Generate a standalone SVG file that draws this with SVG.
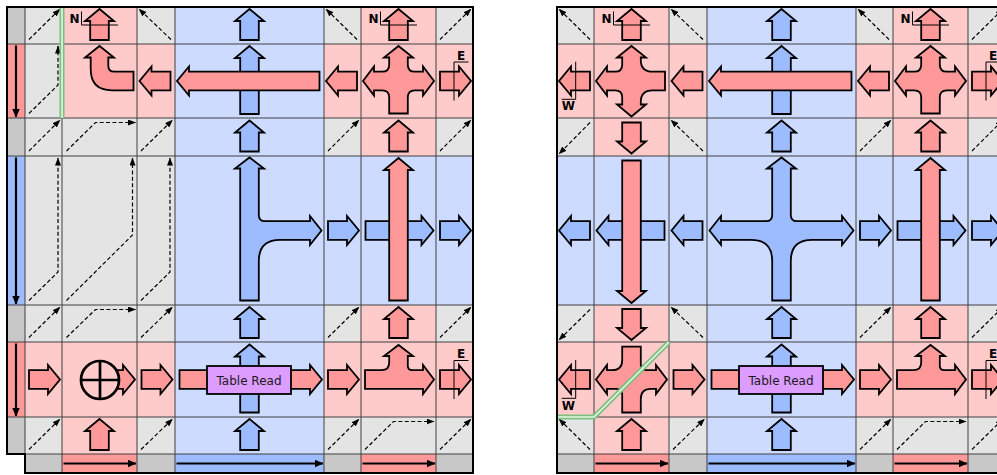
<svg xmlns="http://www.w3.org/2000/svg" xmlns:xlink="http://www.w3.org/1999/xlink" width="997" height="475" viewBox="0 0 997 475">
<style>
.cg{fill:#e4e4e4}
.cd{fill:#c8c8c8}
.cp{fill:#ffcaca}
.cb{fill:#ccdbff}
.bp{fill:#ff9898}
.bb{fill:#9dbcff}
.ap{fill:#ff9898;stroke:#000;stroke-width:1.8;stroke-linejoin:miter}
.ab{fill:#9dbcff;stroke:#000;stroke-width:1.8;stroke-linejoin:miter}
.grid{fill:none;stroke:#404040;stroke-width:1}
.frame{fill:none;stroke:#000;stroke-width:2}
.dsh{fill:none;stroke:#000;stroke-width:1.2;stroke-dasharray:4 2.4;marker-end:url(#tip)}
.bar{fill:none;stroke:#000;stroke-width:2.2;marker-end:url(#btip)}
.lab{font-family:"DejaVu Sans",sans-serif;font-weight:bold;font-size:12px;fill:#000}
.ax{fill:none;stroke:#000;stroke-width:1}
.seam{fill:none;stroke:#7dbf7d;stroke-width:5}
.seam2{fill:none;stroke:#e6f6e6;stroke-width:1.6}
.box{fill:#dd9cff;stroke:#000;stroke-width:1.8}
.boxt{font-family:"DejaVu Sans",sans-serif;font-size:12px;fill:#1a1a1a}
.sum{fill:#ffcaca;stroke:#000;stroke-width:2.7}
</style>
<defs>
<marker id="tip" viewBox="0 0 8 6" refX="7.5" refY="3" markerWidth="8" markerHeight="6" markerUnits="userSpaceOnUse" orient="auto"><path d="M0,0L8,3L0,6Z"/></marker>
<marker id="btip" viewBox="0 0 9 8" refX="8.5" refY="4" markerWidth="9" markerHeight="8" markerUnits="userSpaceOnUse" orient="auto"><path d="M0,0L9,4L0,8Z"/></marker>
<!-- straight arrows pointing right, origin at cell centre -->
<path id="a" d="M-14.5,-9.3H4.5V-14.5L16.5,0L4.5,14.5V9.3H-14.5Z"/>
<path id="a2" d="M-33,-9.3H23V-14.5L35,0L23,14.5V9.3H-33Z"/>
<path id="a4" d="M-70,-9.3H60.5V-14.5L72.5,0L60.5,14.5V9.3H-70Z"/>
<!-- split: up, left, right; fed from below -->
<path id="split3" d="M389.2,113.5V97.3Q389.2,90.3 382.2,90.3H374V95.5L363,81L374,66.5V71.7H382.2Q389.2,71.7 389.2,64.7V57.5H384L398.5,46L413,57.5H407.8V64.7Q407.8,71.7 414.8,71.7H423V66.5L434,81L423,95.5V90.3H414.8Q407.8,90.3 407.8,97.3V113.5Z"/>
<!-- tee: up and right; fed from the left -->
<path id="teeUR" d="M365,370.2H381.5Q389.2,370.2 389.2,362.5V356H384L398.5,345L413,356H407.8V365.7Q407.8,370.2 412.3,370.2H423V365L434,379.5L423,394V388.8H365Z"/>
<!-- table read block -->
<g id="tread">
<rect class="box" x="207" y="366" width="84" height="28"/>
<text class="boxt" x="249" y="384.5" text-anchor="middle">Table Read</text>
</g>
</defs>

<rect width="997" height="475" fill="#fff"/>

<!-- ===== left grid ===== -->
<g id="panel-a">
<g id="a-cells">
<rect class="cg" x="25" y="7" width="448" height="447"/>
<rect class="cb" x="175" y="7" width="149" height="447"/>
<rect class="cb" x="324" y="156" width="149" height="149"/>
<rect class="cp" x="62" y="7" width="75" height="37"/>
<rect class="cp" x="361" y="7" width="75" height="37"/>
<rect class="cp" x="62" y="44" width="113" height="74"/>
<rect class="cp" x="324" y="44" width="149" height="74"/>
<rect class="cp" x="361" y="118" width="75" height="38"/>
<rect class="cp" x="361" y="305" width="75" height="37"/>
<rect class="cp" x="25" y="342" width="150" height="75"/>
<rect class="cp" x="324" y="342" width="149" height="75"/>
<rect class="cp" x="62" y="417" width="75" height="37"/>
<rect class="cd" x="7" y="7" width="18" height="447"/>
<rect class="bp" x="7" y="44" width="18" height="74"/>
<rect class="bb" x="7" y="156" width="18" height="149"/>
<rect class="bp" x="7" y="342" width="18" height="75"/>
<rect class="cd" x="25" y="454" width="448" height="19"/>
<rect class="bp" x="62" y="454" width="75" height="19"/>
<rect class="bb" x="175" y="454" width="149" height="19"/>
<rect class="bp" x="361" y="454" width="75" height="19"/>
</g>
<path id="a-grid" class="grid" d="M25,7V473M62,7V473M137,7V473M175,7V473M324,7V473M361,7V473M436,7V473M7,44H473M7,118H473M7,156H473M7,305H473M7,342H473M7,417H473M7,454H473"/>
<g id="a-flows">
<path class="dsh" d="M29,39.5L60,9"/>
<path class="dsh" d="M171,39.5L139,9"/>
<path class="dsh" d="M357,39.5L326,9"/>
<path class="dsh" d="M440,39.5L471,9"/>
<path class="dsh" d="M29,113.5L58,85V46"/>
<path class="dsh" d="M29,151L60,120"/>
<path class="dsh" d="M66.5,151L95.5,122.5H135.5"/>
<path class="dsh" d="M141,151L172.5,120"/>
<path class="dsh" d="M328,151L359,120"/>
<path class="dsh" d="M440,151L471,120"/>
<path class="dsh" d="M29,300.5L58,272V158"/>
<path class="dsh" d="M66.5,300.5L132.5,235V158"/>
<path class="dsh" d="M141,300.5L170,272V158"/>
<path class="dsh" d="M29,337.5L60,307"/>
<path class="dsh" d="M66.5,337.5L95.5,309.5H135.5"/>
<path class="dsh" d="M141,337.5L172.5,307"/>
<path class="dsh" d="M328,337.5L359,307"/>
<path class="dsh" d="M440,337.5L471,307"/>
<path class="dsh" d="M29,449.5L60,419"/>
<path class="dsh" d="M141,449.5L172.5,419"/>
<path class="dsh" d="M328,449.5L359,419"/>
<path class="dsh" d="M365,449.5L393.5,421.5H434"/>
<path class="dsh" d="M440,449.5L471,419"/>
</g>
<g id="a-bars">
<path class="bar" d="M16,45.5V117"/>
<path class="bar" d="M16,157.5V304"/>
<path class="bar" d="M16,343.5V416"/>
<path class="bar" d="M63.5,463.5H136"/>
<path class="bar" d="M176.5,463.5H323"/>
<path class="bar" d="M362.5,463.5H435"/>
</g>
<g id="a-arrows">
<use href="#a" class="ap" transform="translate(99.5,25.5) rotate(-90)"/>
<use href="#a" class="ab" transform="translate(249.5,25.5) rotate(-90)"/>
<use href="#a" class="ap" transform="translate(398.5,25.5) rotate(-90)"/>
<path class="ap" d="M90.7,57.5H85L99.5,46L114,57.5H108.3V65.7Q108.3,71.7 114.3,71.7H133.5V90.3H112Q90.7,90.3 90.7,69Z"/>
<use href="#a" class="ap" transform="translate(156,81) rotate(180)"/>
<use href="#a2" class="ab" transform="translate(249.5,81) rotate(-90)"/>
<use href="#a4" class="ap" transform="translate(249.5,81) rotate(180)"/>
<use href="#a" class="ap" transform="translate(342.5,81) rotate(180)"/>
<use href="#split3" class="ap"/>
<use href="#a" class="ap" transform="translate(454.5,81)"/>
<use href="#a" class="ab" transform="translate(249.5,137) rotate(-90)"/>
<use href="#a" class="ap" transform="translate(398.5,137) rotate(-90)"/>
<path class="ab" d="M240.2,300.5V168.5H235L249.5,157.5L264,168.5H258.8V215Q258.8,221.2 265,221.2H310V216L321.5,230.5L310,245V239.8H280Q258.8,239.8 258.8,261V300.5Z"/>
<use href="#a" class="ab" transform="translate(342.5,230.5)"/>
<use href="#a2" class="ab" transform="translate(398.5,230.5)"/>
<use href="#a4" class="ap" transform="translate(398.5,230.5) rotate(-90)"/>
<use href="#a" class="ab" transform="translate(454.5,230.5)"/>
<use href="#a" class="ab" transform="translate(249.5,323.5) rotate(-90)"/>
<use href="#a" class="ap" transform="translate(398.5,323.5) rotate(-90)"/>
<use href="#a" class="ap" transform="translate(43.5,379.5)"/>
<use href="#a" class="ap" transform="translate(118.5,379.5)"/>
<circle class="sum" cx="100" cy="380" r="19"/>
<path fill="none" stroke="#000" stroke-width="2.7" d="M81,380H119M100,361V399"/>
<use href="#a" class="ap" transform="translate(156,379.5)"/>
<use href="#a2" class="ab" transform="translate(249.5,379.5) rotate(-90)"/>
<use href="#a4" class="ap" transform="translate(249.5,379.5)"/>
<use href="#tread"/>
<use href="#a" class="ap" transform="translate(342.5,379.5)"/>
<use href="#teeUR" class="ap"/>
<use href="#a" class="ap" transform="translate(454.5,379.5)"/>
<use href="#a" class="ap" transform="translate(99.5,435.5) rotate(-90)"/>
<use href="#a" class="ab" transform="translate(249.5,435.5) rotate(-90)"/>
</g>
<g id="a-labels">
<text class="lab" x="69.5" y="22.5">N</text>
<path class="ax" d="M81.5,11.5V25H118"/>
<text class="lab" x="368.5" y="22.5">N</text>
<path class="ax" d="M380.5,11.5V25H417"/>
<text class="lab" x="457" y="60.3">E</text>
<path class="ax" d="M468.5,62H454V100.5"/>
<text class="lab" x="457" y="358.3">E</text>
<path class="ax" d="M468.5,360.5H454V399"/>
</g>
<g id="a-seam">
<path class="seam" d="M62,7V118"/>
<path class="seam2" d="M62,7V118"/>
</g>
<path class="frame" d="M7,7H473V473H25V454H7Z"/>
</g>

<!-- ===== right grid ===== -->
<g id="panel-b" transform="translate(532,0)">
<g id="b-cells">
<rect class="cg" x="25" y="7" width="448" height="447"/>
<rect class="cp" x="62" y="7" width="75" height="37"/>
<rect class="cp" x="361" y="7" width="75" height="37"/>
<rect class="cp" x="25" y="44" width="448" height="74"/>
<rect class="cp" x="62" y="118" width="75" height="38"/>
<rect class="cp" x="361" y="118" width="75" height="38"/>
<rect class="cp" x="62" y="305" width="75" height="37"/>
<rect class="cp" x="361" y="305" width="75" height="37"/>
<rect class="cp" x="25" y="342" width="448" height="75"/>
<rect class="cp" x="62" y="417" width="75" height="37"/>
<rect class="cb" x="175" y="7" width="149" height="447"/>
<rect class="cb" x="25" y="156" width="448" height="149"/>
<rect class="cd" x="25" y="454" width="448" height="19"/>
<rect class="bp" x="62" y="454" width="75" height="19"/>
<rect class="bb" x="175" y="454" width="149" height="19"/>
<rect class="bp" x="361" y="454" width="75" height="19"/>
</g>
<path id="b-grid" class="grid" d="M62,7V473M137,7V473M175,7V473M324,7V473M361,7V473M436,7V473M25,44H473M25,118H473M25,156H473M25,305H473M25,342H473M25,417H473M25,454H473"/>
<g id="b-flows">
<path class="dsh" d="M58,39.5L27,9"/>
<path class="dsh" d="M171,39.5L139,9"/>
<path class="dsh" d="M357,39.5L326,9"/>
<path class="dsh" d="M440,39.5L471,9"/>
<path class="dsh" d="M58,122.5L27,154"/>
<path class="dsh" d="M171,151L139,120"/>
<path class="dsh" d="M328,151L359,120"/>
<path class="dsh" d="M440,151L471,120"/>
<path class="dsh" d="M58,309.5L27,340"/>
<path class="dsh" d="M171,337.5L139,307"/>
<path class="dsh" d="M328,337.5L359,307"/>
<path class="dsh" d="M440,337.5L471,307"/>
<path class="dsh" d="M58,449.5L27,419"/>
<path class="dsh" d="M141,449.5L172.5,419"/>
<path class="dsh" d="M328,449.5L359,419"/>
<path class="dsh" d="M365,449.5L393.5,421.5H434"/>
<path class="dsh" d="M440,449.5L471,419"/>
</g>
<g id="b-bars">
<path class="bar" d="M63.5,463.5H136"/>
<path class="bar" d="M176.5,463.5H323"/>
<path class="bar" d="M362.5,463.5H435"/>
</g>
<g id="b-arrows">
<use href="#a" class="ap" transform="translate(99.5,25.5) rotate(-90)"/>
<use href="#a" class="ab" transform="translate(249.5,25.5) rotate(-90)"/>
<use href="#a" class="ap" transform="translate(398.5,25.5) rotate(-90)"/>
<use href="#a" class="ap" transform="translate(43.5,81) rotate(180)"/>
<path class="ap" d="M99.5,46L114,57.5H108.8V60Q108.8,71.7 120.5,71.7H133V90.3H120.5Q108.8,90.3 108.8,102V104.5H114L99.5,116.5L85,104.5H90.2V97.3Q90.2,90.3 83.2,90.3H75V95.5L64,81L75,66.5V71.7H83.2Q90.2,71.7 90.2,64.7V57.5H85Z"/>
<use href="#a" class="ap" transform="translate(156,81) rotate(180)"/>
<use href="#a2" class="ab" transform="translate(249.5,81) rotate(-90)"/>
<use href="#a4" class="ap" transform="translate(249.5,81) rotate(180)"/>
<use href="#a" class="ap" transform="translate(342.5,81) rotate(180)"/>
<use href="#split3" class="ap"/>
<use href="#a" class="ap" transform="translate(454.5,81)"/>
<use href="#a" class="ap" transform="translate(99.5,137) rotate(90)"/>
<use href="#a" class="ab" transform="translate(249.5,137) rotate(-90)"/>
<use href="#a" class="ap" transform="translate(398.5,137) rotate(-90)"/>
<use href="#a" class="ab" transform="translate(43.5,230.5) rotate(180)"/>
<use href="#a2" class="ab" transform="translate(99.5,230.5) rotate(180)"/>
<use href="#a4" class="ap" transform="translate(99.5,230.5) rotate(90)"/>
<use href="#a" class="ab" transform="translate(156,230.5) rotate(180)"/>
<path class="ab" d="M240.2,300.5V261Q240.2,239.8 219,239.8H189V245L177.5,230.5L189,216V221.2H234Q240.2,221.2 240.2,215V168.5H235L249.5,157.5L264,168.5H258.8V215Q258.8,221.2 265,221.2H310V216L321.5,230.5L310,245V239.8H280Q258.8,239.8 258.8,261V300.5Z"/>
<use href="#a" class="ab" transform="translate(342.5,230.5)"/>
<use href="#a2" class="ab" transform="translate(398.5,230.5)"/>
<use href="#a4" class="ap" transform="translate(398.5,230.5) rotate(-90)"/>
<use href="#a" class="ab" transform="translate(454.5,230.5)"/>
<use href="#a" class="ap" transform="translate(99.5,323.5) rotate(90)"/>
<use href="#a" class="ab" transform="translate(249.5,323.5) rotate(-90)"/>
<use href="#a" class="ap" transform="translate(398.5,323.5) rotate(-90)"/>
<use href="#a" class="ap" transform="translate(43.5,379.5) rotate(180)"/>
<path class="ap" d="M90.2,346.7H108.8V364.2Q108.8,370.2 114.8,370.2H124V365L135,379.5L124,394V388.8H119Q108.8,388.8 108.8,399V412.5H90.2V394.8Q90.2,388.8 84.2,388.8H75V394L64,379.5L75,365V370.2H80Q90.2,370.2 90.2,360Z"/>
<use href="#a" class="ap" transform="translate(156,379.5)"/>
<use href="#a2" class="ab" transform="translate(249.5,379.5) rotate(-90)"/>
<use href="#a4" class="ap" transform="translate(249.5,379.5)"/>
<use href="#tread"/>
<use href="#a" class="ap" transform="translate(342.5,379.5)"/>
<use href="#teeUR" class="ap"/>
<use href="#a" class="ap" transform="translate(454.5,379.5)"/>
<use href="#a" class="ap" transform="translate(99.5,435.5) rotate(-90)"/>
<use href="#a" class="ab" transform="translate(249.5,435.5) rotate(-90)"/>
</g>
<g id="b-labels">
<text class="lab" x="69.5" y="22.5">N</text>
<path class="ax" d="M81.5,11.5V25H118"/>
<text class="lab" x="368.5" y="22.5">N</text>
<path class="ax" d="M380.5,11.5V25H417"/>
<text class="lab" x="457" y="60.3">E</text>
<path class="ax" d="M468.5,62H454V100.5"/>
<text class="lab" x="457" y="358.3">E</text>
<path class="ax" d="M468.5,360.5H454V399"/>
<text class="lab" x="36.4" y="110" text-anchor="middle">W</text>
<path class="ax" d="M43.7,61.7V99.3H29.7"/>
<text class="lab" x="36.4" y="410" text-anchor="middle">W</text>
<path class="ax" d="M43.7,360V398.3H29.7"/>
</g>
<g id="b-seam">
<path class="seam" d="M25,417H62L137,342"/>
<path class="seam2" d="M25,417H62L137,342"/>
</g>
<path class="frame" d="M25,7H473V473H25Z"/>
</g>
</svg>
